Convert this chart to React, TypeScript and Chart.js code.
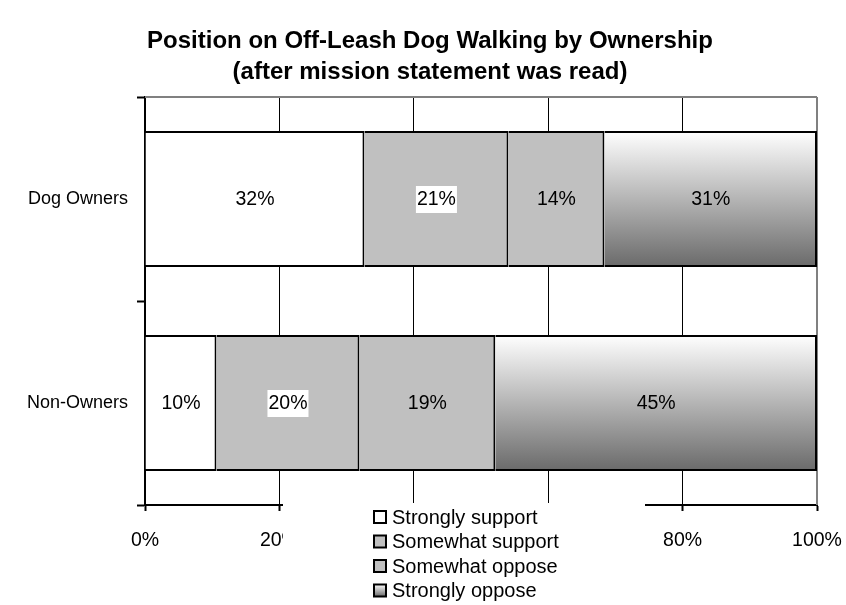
import React, { useEffect, useRef } from "react";
import { Chart, registerables } from "chart.js";

Chart.register(...registerables);

const FONT = "'Liberation Sans', Arial, Helvetica, sans-serif";

const titleLines = [
  "Position on Off-Leash Dog Walking by Ownership",
  "(after mission statement was read)",
];
const categories = ["Dog Owners", "Non-Owners"];
const seriesNames = ["Strongly support", "Somewhat support", "Somewhat oppose", "Strongly oppose"];
const stronglySupport = [32, 10];
const somewhatSupport = [21, 20];
const somewhatOppose = [14, 19];
const stronglyOppose = [31, 45];
const xTicks = [0, 20, 40, 60, 80, 100];

const seriesValues = [stronglySupport, somewhatSupport, somewhatOppose, stronglyOppose];
const totals = categories.map((_, i) => seriesValues.reduce((s, arr) => s + arr[i], 0));
const shares = seriesValues.map((arr) => arr.map((v, i) => (v / totals[i]) * 100));

const BAR_FRACTION = 0.667;

function gradientFor(ctx: CanvasRenderingContext2D, top: number, bottom: number) {
  const g = ctx.createLinearGradient(0, top, 0, bottom);
  g.addColorStop(0, "#ffffff");
  g.addColorStop(1, "#6a6a6a");
  return g;
}

const fills: any[] = [
  "#ffffff",
  "#c0c0c0",
  "#c0c0c0",
  (c: any) => {
    const chart = c.chart;
    const ys = chart.scales && chart.scales.y;
    if (!chart.chartArea || !ys || c.dataIndex == null) return "#b0b0b0";
    const center = ys.getPixelForValue(c.dataIndex);
    const half = ((ys.bottom - ys.top) / categories.length) * BAR_FRACTION / 2;
    return gradientFor(chart.ctx, center - half, center + half);
  },
];

const framePlugin = {
  id: "frame",
  beforeDatasetsDraw(chart: any) {
    const { ctx, chartArea } = chart;
    ctx.save();
    ctx.strokeStyle = "#808080";
    ctx.lineWidth = 2;
    ctx.beginPath();
    ctx.moveTo(chartArea.left, chartArea.top);
    ctx.lineTo(chartArea.right, chartArea.top);
    ctx.moveTo(chartArea.right, chartArea.top);
    ctx.lineTo(chartArea.right, chartArea.bottom);
    ctx.stroke();
    ctx.restore();
  },
};

const labelPlugin = {
  id: "barLabels",
  afterDatasetsDraw(chart: any) {
    const { ctx } = chart;
    ctx.save();
    ctx.font = `19.5px ${FONT}`;
    ctx.textAlign = "center";
    ctx.textBaseline = "middle";
    chart.data.datasets.forEach((ds: any, di: number) => {
      const meta = chart.getDatasetMeta(di);
      meta.data.forEach((el: any, i: number) => {
        const text = `${seriesValues[di][i]}%`;
        const x = (el.x + el.base) / 2;
        const y = el.y;
        if (di === 1) {
          const w = ctx.measureText(text).width;
          ctx.fillStyle = "#ffffff";
          ctx.fillRect(x - w / 2 - 1, y - 13, w + 2, 27);
        }
        ctx.fillStyle = "#000000";
        ctx.fillText(text, x, y + 1);
      });
    });
    ctx.restore();
  },
};

const overlayPlugin = {
  id: "overlay",
  afterDraw(chart: any) {
    const { ctx, chartArea } = chart;
    ctx.save();
    // title
    ctx.fillStyle = "#000";
    ctx.font = `bold 24px ${FONT}`;
    ctx.textAlign = "center";
    ctx.textBaseline = "middle";
    const cx = (chartArea.left + chartArea.right) / 2 - 51;
    titleLines.forEach((t, i) => ctx.fillText(t, cx, 41 + i * 31));

    // legend
    const lx = 283;
    const ly = 503;
    ctx.fillStyle = "#ffffff";
    ctx.fillRect(lx, ly, 645 - lx, chart.height - ly);
    ctx.font = `20px ${FONT}`;
    ctx.textAlign = "left";
    ctx.textBaseline = "middle";
    seriesNames.forEach((name, i) => {
      const y = 517 + i * 24.5;
      const bx = 374;
      const bs = 12;
      let f: any = fills[i];
      if (typeof f === "function") f = gradientFor(ctx, y - bs / 2, y + bs / 2);
      ctx.fillStyle = f;
      ctx.fillRect(bx, y - bs / 2, bs, bs);
      ctx.strokeStyle = "#000";
      ctx.lineWidth = 2;
      ctx.strokeRect(bx, y - bs / 2, bs, bs);
      ctx.fillStyle = "#000";
      ctx.fillText(name, 392, y + 1);
    });
    ctx.restore();
  },
};

export default function App() {
  const ref = useRef<HTMLCanvasElement | null>(null);
  useEffect(() => {
    if (!ref.current) return;
    const chart = new Chart(ref.current, {
      type: "bar",
      data: {
        labels: categories,
        datasets: seriesNames.map((name, i) => ({
          label: name,
          data: shares[i],
          backgroundColor: fills[i],
          borderColor: "#000000",
          borderWidth: 2,
          borderSkipped: "start",
          categoryPercentage: 1,
          barPercentage: BAR_FRACTION,
        })),
      },
      options: {
        indexAxis: "y",
        animation: false,
        responsive: false,
        maintainAspectRatio: false,
        layout: { padding: { top: 97, right: 29, left: 0, bottom: 0 } },
        plugins: {
          legend: { display: false },
          title: { display: false },
          tooltip: { enabled: false },
        },
        scales: {
          x: {
            type: "linear",
            stacked: true,
            min: 0,
            max: 100,
            afterBuildTicks: (s: any) => {
              s.ticks = xTicks.map((v) => ({ value: v }));
            },
            afterFit: (s: any) => {
              s.height = 100;
              s.paddingLeft = 0;
              s.paddingRight = 0;
            },
            ticks: {
              color: "#000",
              font: { family: FONT, size: 19.5 },
              padding: 18,
              callback: (v: any) => `${v}%`,
              maxRotation: 0,
            },
            grid: {
              color: (c: any) => (c.tick && c.tick.value === 100 ? "#808080" : "#000000"),
              lineWidth: 1,
              tickLength: 6,
              tickColor: "#000000",
              tickWidth: 2,
            },
            border: { color: "#000", width: 2 },
          },
          y: {
            type: "category",
            stacked: true,
            afterFit: (s: any) => {
              s.width = 145;
              s.paddingTop = 0;
              s.paddingBottom = 0;
            },
            ticks: {
              color: "#000",
              font: { family: FONT, size: 18 },
              padding: 9,
            },
            grid: {
              offset: true,
              drawOnChartArea: false,
              tickLength: 8,
              tickColor: "#000",
              tickWidth: 2,
            },
            border: { color: "#000", width: 2 },
          },
        },
      } as any,
      plugins: [framePlugin, labelPlugin, overlayPlugin],
    });
    return () => chart.destroy();
  }, []);
  return (
    <div style={{ position: "fixed", left: 0, top: 0, width: 846, height: 605, background: "#fff" }}>
      <canvas ref={ref} width={846} height={605} style={{ width: 846, height: 605, display: "block" }} />
    </div>
  );
}
